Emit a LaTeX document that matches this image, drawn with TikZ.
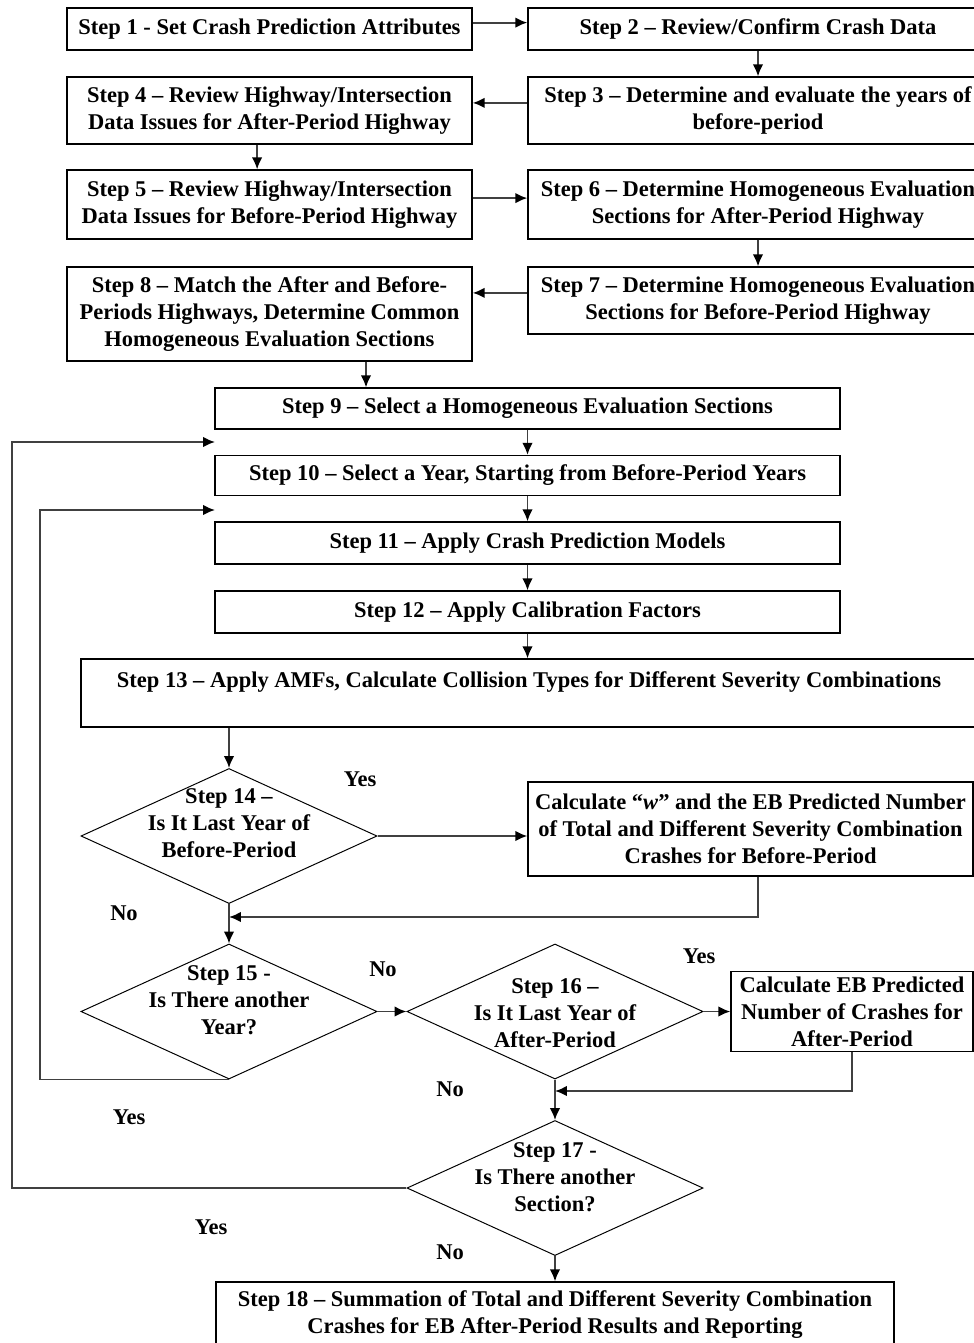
\documentclass[tikz,border=0pt]{standalone}
\usepackage{fontspec}
\setmainfont{Liberation Serif}
\usepackage{tikz}
\usetikzlibrary{shapes.geometric,arrows.meta,positioning}

\newcommand{\stepfont}{\fontsize{16}{19.2}\selectfont\bfseries}

\tikzset{
  stepbox/.style={draw, line width=0.9pt, rectangle, align=center, font=\stepfont, inner sep=0pt},
  decide/.style={draw, line width=0.7pt, diamond, minimum width=7.4cm, minimum height=3.375cm, inner sep=0pt},
  asktext/.style={align=center, font=\stepfont, inner sep=0pt},
  flow/.style={->, >={Latex[length=8.5pt,width=7.5pt,color=black]}, line width=1.3pt, black!75},
  answer/.style={font=\stepfont}
}

\begin{document}
\begin{tikzpicture}[x=0.025cm, y=-0.025cm]
  \useasboundingbox (0,0) rectangle (974,1343);

  % Data preparation steps
  \node[stepbox, minimum width=10.125cm, minimum height=1.05cm] (s1) at (269.5, 29) {Step 1 - Set Crash Prediction Attributes};
  \node[stepbox, minimum width=11.5cm, minimum height=1.05cm] (s2) at (758, 29) {Step 2 -- Review/Confirm Crash Data};
  \node[stepbox, minimum width=11.5cm, minimum height=1.675cm] (s3) at (758, 110.5) {Step 3 -- Determine and evaluate the years of\\before-period};
  \node[stepbox, minimum width=10.125cm, minimum height=1.675cm] (s4) at (269.5, 110.5) {Step 4 -- Review Highway/Intersection\\Data Issues for After-Period Highway};
  \node[stepbox, minimum width=10.125cm, minimum height=1.725cm] (s5) at (269.5, 204.5) {Step 5 -- Review Highway/Intersection\\Data Issues for Before-Period Highway};
  \node[stepbox, minimum width=11.5cm, minimum height=1.725cm] (s6) at (758, 204.5) {Step 6 -- Determine Homogeneous Evaluation\\Sections for After-Period Highway};
  \node[stepbox, minimum width=11.5cm, minimum height=1.675cm] (s7) at (758, 300.5) {Step 7 -- Determine Homogeneous Evaluation\\Sections for Before-Period Highway};
  \node[stepbox, minimum width=10.125cm, minimum height=2.35cm] (s8) at (269.5, 314) {Step 8 -- Match the After and Before-\\Periods Highways, Determine Common\\Homogeneous Evaluation Sections};

  % Main loop steps
  \node[stepbox, minimum width=15.625cm, minimum height=1.025cm] (s9) at (527.5, 408.5) {Step 9 -- Select a Homogeneous Evaluation Sections};
  \node[stepbox, minimum width=15.625cm, minimum height=1.0cm] (s10) at (527.5, 475.5) {Step 10 -- Select a Year, Starting from Before-Period Years};
  \node[stepbox, minimum width=15.625cm, minimum height=1.05cm] (s11) at (527.5, 543) {Step 11 -- Apply Crash Prediction Models};
  \node[stepbox, minimum width=15.625cm, minimum height=1.05cm] (s12) at (527.5, 612) {Step 12 -- Apply Calibration Factors};
  \node[stepbox, minimum width=22.4cm, minimum height=1.7cm] (s13) at (529, 693) {Step 13 -- Apply AMFs, Calculate Collision Types for Different Severity Combinations\\~};

  % Decisions
  \node[decide] (d14) at (229, 836) {};
  \node[asktext] (t14) at (229, 823) {Step 14 --\\Is It Last Year of\\Before-Period};
  \node[stepbox, minimum width=11.125cm, minimum height=2.35cm] (cw) at (750.5, 829) {Calculate ``\textit{w}'' and the EB Predicted Number\\of Total and Different Severity Combination\\Crashes for Before-Period};
  \node[decide] (d15) at (229, 1011.5) {};
  \node[asktext] (t15) at (229, 1000) {Step 15 -\\Is There another\\Year?};
  \node[decide] (d16) at (555, 1011.5) {};
  \node[asktext] (t16) at (555, 1013) {Step 16 --\\Is It Last Year of\\After-Period};
  \node[stepbox, minimum width=6.05cm, minimum height=2.0cm] (ce) at (852, 1011.5) {Calculate EB Predicted\\Number of Crashes for\\After-Period};
  \node[decide] (d17) at (555, 1188) {};
  \node[asktext] (t17) at (555, 1177) {Step 17 -\\Is There another\\Section?};
  \node[stepbox, minimum width=16.95cm, minimum height=1.625cm] (s18) at (555, 1314.5) {Step 18 -- Summation of Total and Different Severity Combination\\Crashes for EB After-Period Results and Reporting};

  % Answers
  \node[answer] (y14) at (360, 779) {Yes};
  \node[answer] (n14) at (124, 913) {No};
  \node[answer] (n15) at (383, 969) {No};
  \node[answer] (y15) at (129, 1117) {Yes};
  \node[answer] (y16) at (699, 956) {Yes};
  \node[answer] (n16) at (450, 1089) {No};
  \node[answer] (y17) at (211, 1227) {Yes};
  \node[answer] (n17) at (450, 1252) {No};

  % Helper points
  \coordinate (c89) at (366, 0);
  \coordinate (in10) at (215, 442);
  \coordinate (in11) at (215, 510);
  \coordinate (j14) at (229, 917);
  \coordinate (j16) at (555, 1091);

  % Arrows
  \draw[flow] ([yshift=0.16cm]s1.east) -- ([yshift=0.16cm]s2.west);
  \draw[flow] (s2) -- (s3);
  \draw[flow] ([yshift=0.19cm]s3.west) -- ([yshift=0.19cm]s4.east);
  \draw[flow] ([xshift=-0.31cm]s4.south) -- ([xshift=-0.31cm]s5.north);
  \draw[flow] ([yshift=0.16cm]s5.east) -- ([yshift=0.16cm]s6.west);
  \draw[flow] (s6) -- (s7);
  \draw[flow] ([yshift=0.19cm]s7.west) -- ([yshift=0.19cm]s7.west -| s8.east);
  \draw[flow] (s8.south -| c89) -- (s9.north -| c89);
  \draw[flow] (s9) -- (s10);
  \draw[flow] (s10) -- (s11);
  \draw[flow] (s11) -- (s12);
  \draw[flow] (s12.south) -- (s12.south |- s13.north);
  \draw[flow] (s13.south -| d14.north) -- (d14.north);
  \draw[flow] (d14.east) -- (d14.east -| cw.west);
  \draw[flow] ([xshift=0.19cm]cw.south) |- (j14);
  \draw[flow] (d14.south) -- (d15.north);
  \draw[flow] (d15.east) -- (d16.west);
  \draw[flow] (d16.east) -- (ce.west);
  \draw[flow] (ce.south) |- (j16);
  \draw[flow] (d16.south) -- (d17.north);
  \draw[flow] (d17.south) -- (s18.north);
  \draw[flow] (d15.south) -| (40, 510) -- (in11);
  \draw[flow] (d17.west) -| (12, 442) -- (in10);
\end{tikzpicture}
\end{document}
